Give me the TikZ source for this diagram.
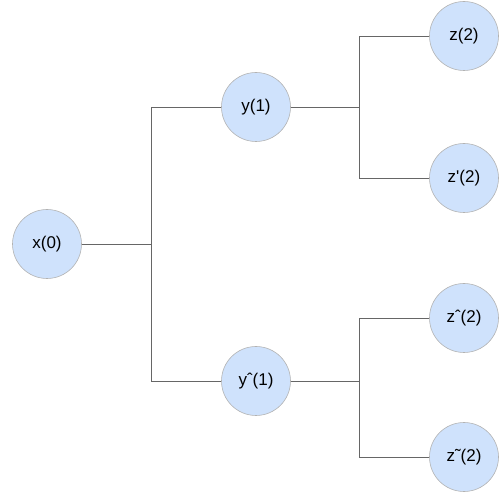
\documentclass[tikz,border=0pt]{standalone}
\usepackage{fontspec}
\setmainfont{Liberation Sans}
\usepackage{tikz}

\begin{document}
\begin{tikzpicture}[x=1pt, y=-1pt,
roundnode/.style={circle, draw=black!30, fill={rgb,255:red,207;green,226;blue,252}, line width=0.6pt, minimum size=69pt, inner sep=0pt, font=\fontsize{17}{20}\selectfont},
branch/.style={draw=black!60, line width=0.9pt},
]
\useasboundingbox (0,0) rectangle (499,492);
%Nodes
\node[roundnode]      (X0)   at (47,244)  {x(0)};
\node[roundnode]      (Y1)   at (256,107) {y(1)};
\node[roundnode]      (Yh1)  at (256,381) {yˆ(1)};

\node[roundnode]      (Z2)   at (464,36)  {z(2)};
\node[roundnode]      (Zp2)  at (464,178) {z\textquotesingle(2)};
\node[roundnode]      (Zh2)  at (464,318) {zˆ(2)};
\node[roundnode]      (Zt2)  at (464,457) {z˜(2)};

%Joints
\coordinate (J0)  at (151,244);
\coordinate (J1)  at (359,107);
\coordinate (J2)  at (359,381);

%Lines
\draw[branch] (X0.east) -- (J0);
\draw[branch] (J0) |- (Y1.west);
\draw[branch] (J0) |- (Yh1.west);

\draw[branch] (Y1.east) -- (J1);
\draw[branch] (J1) |- (Z2.west);
\draw[branch] (J1) |- (Zp2.west);

\draw[branch] (Yh1.east) -- (J2);
\draw[branch] (J2) |- (Zh2.west);
\draw[branch] (J2) |- (Zt2.west);

\end{tikzpicture}
\end{document}
